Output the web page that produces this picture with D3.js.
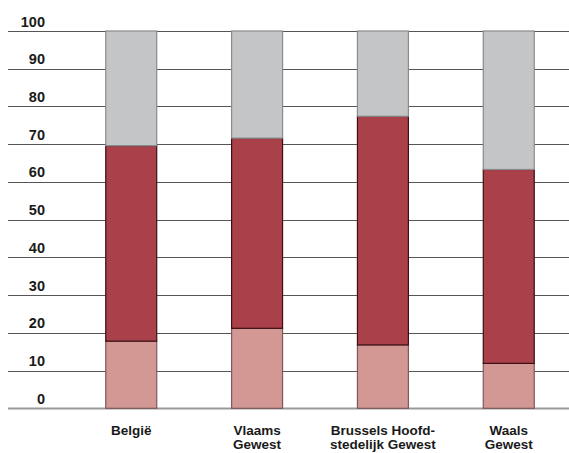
<!DOCTYPE html>
<html>
<head>
<meta charset="utf-8">
<script src="https://cdn.jsdelivr.net/npm/d3@7"></script>
<style>
  body { margin: 0; background: #fff; }
  text { font-family: "Liberation Sans", Arial, sans-serif; font-weight: bold; fill: #1a1a1a; }
</style>
</head>
<body>
<script>
//panel size
var w = 569, h = 453;

//data
var regions = ["België", "Vlaams Gewest", "Brussels Hoofdstedelijk Gewest", "Waals Gewest"];
var labelLines = [["België"], ["Vlaams", "Gewest"], ["Brussels Hoofd-", "stedelijk Gewest"], ["Waals", "Gewest"]];
var lowValues = [17.8, 21.2, 16.8, 11.9];   // pink part
var midValues = [51.8, 50.4, 60.6, 51.4];   // red part
var topValues = [30.4, 28.4, 22.6, 36.7];   // grey part
var yTicks = [0, 10, 20, 30, 40, 50, 60, 70, 80, 90, 100];

var colors = ["#d39794", "#aa404a", "#c4c5c7"];
var strokes = ["#7a5a5a", "#3a1014", "#8a8a8a"];

window.onload = function(){

    var svg = d3.select("body")
        .append("svg")
        .attr("width", w)
        .attr("height", h)
        .style("display", "block");

    var x = d3.scaleBand()
        .domain(regions)
        .range([68, 572])
        .paddingInner(0.595)
        .paddingOuter(0.3);

    var y = d3.scaleLinear()
        .domain([0, 100])
        .range([408.3, 31]);

    //gridlines
    svg.selectAll(".grid")
        .data(yTicks)
        .enter()
        .append("line")
        .attr("class", "grid")
        .attr("x1", 8)
        .attr("x2", w)
        .attr("y1", function(d){ return Math.round(y(d)) + 0.5; })
        .attr("y2", function(d){ return Math.round(y(d)) + 0.5; })
        .style("stroke", function(d){ return d === 0 ? "#999" : "#555"; })
        .style("stroke-width", function(d){ return d === 0 ? 2 : 1.2; });

    //tick labels sit above the lines
    svg.selectAll(".tick-label")
        .data(yTicks)
        .enter()
        .append("text")
        .attr("class", "tick-label")
        .attr("x", 45)
        .attr("y", function(d){ return y(d) - 4.5; })
        .attr("text-anchor", "end")
        .style("font-size", "14.5px")
        .text(function(d){ return d; });

    //stack the three parts
    var rows = regions.map(function(r, i){
        return { region: r, low: lowValues[i], mid: midValues[i], top: topValues[i] };
    });
    var stack = d3.stack().keys(["low", "mid", "top"]);
    var series = stack(rows);

    var layers = svg.selectAll(".layer")
        .data(series)
        .enter()
        .append("g")
        .attr("class", "layer");

    layers.selectAll("rect")
        .data(function(s){ return s.map(function(d){ return { d: d, k: s.index }; }); })
        .enter()
        .append("rect")
        .attr("x", function(o){ return x(o.d.data.region); })
        .attr("width", x.bandwidth())
        .attr("y", function(o){ return y(o.d[1]); })
        .attr("height", function(o){ return y(o.d[0]) - y(o.d[1]); })
        .style("fill", function(o){ return colors[o.k]; })
        .style("stroke", function(o){ return strokes[o.k]; })
        .style("stroke-width", 1.2);

    //category labels
    var labels = svg.selectAll(".cat")
        .data(regions)
        .enter()
        .append("text")
        .attr("class", "cat")
        .attr("text-anchor", "middle")
        .attr("y", 435)
        .style("font-size", "13.5px");

    labels.selectAll("tspan")
        .data(function(d, i){ return labelLines[i].map(function(t){ return { t: t, r: d }; }); })
        .enter()
        .append("tspan")
        .attr("x", function(o){ return x(o.r) + x.bandwidth() / 2; })
        .attr("dy", function(o, j){ return j === 0 ? 0 : 14; })
        .text(function(o){ return o.t; });
};
</script>
</body>
</html>
